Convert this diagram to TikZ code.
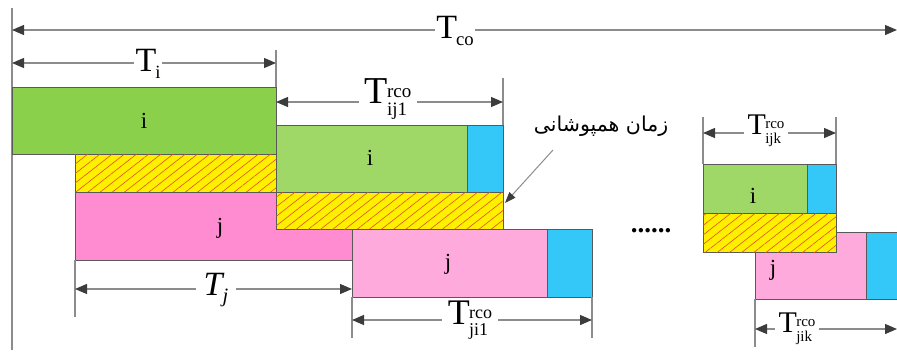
\documentclass[tikz,border=0pt]{standalone}
\usepackage{fontspec}
\usepackage{graphicx}
\setmainfont{Liberation Serif}
\newfontfamily\arabicfont[Script=Arabic]{DejaVu Sans}
\TeXXeTstate=1
\usetikzlibrary{arrows.meta,patterns.meta}
\definecolor{gA}{HTML}{8AD04A}
\definecolor{gB}{HTML}{A0D868}
\definecolor{pA}{HTML}{FF8CD0}
\definecolor{pB}{HTML}{FFAADC}
\definecolor{bl}{HTML}{33C8F8}
\definecolor{yl}{HTML}{FFF000}
\definecolor{hl}{HTML}{E0501E}
\definecolor{ln}{HTML}{8C8C8C}
\definecolor{tp}{HTML}{3C3C3C}
\newcommand{\Tsb}[1]{T\kern-0.03em\raisebox{-0.45ex}{\scalebox{0.55}{#1}}}
\newcommand{\Tss}[2]{T\kern-0.02em\raisebox{-0.15ex}{\scalebox{0.5}{\def\arraystretch{0.8}\begin{tabular}{@{}l@{}}#2\\#1\end{tabular}}}}
\tikzset{
  box/.style={draw=black!65, line width=0.7pt},
  hatchbox/.style={box, fill=yl, postaction={pattern={Lines[angle=38,distance=7.5pt,line width=0.6pt]}, pattern color=hl}},
  dimline/.style={draw=ln, line width=1.3pt, {Triangle[length=12pt,width=10pt,color=tp]}-{Triangle[length=12pt,width=10pt,color=tp]}},
  tick/.style={draw=ln, line width=1.1pt},
  lab/.style={fill=white, inner sep=1.5pt, font=\fontsize{34}{40}\selectfont},
  blab/.style={font=\fontsize{23}{26}\selectfont}
}
\begin{document}
\begin{tikzpicture}[x=1pt,y=-1pt]
\useasboundingbox (0,0) rectangle (897,356);
% left reference line
\coordinate (L0) at (12,8); \coordinate (L1) at (12,350);
\draw[tick] (L0) -- (L1);
% T_co
\coordinate (co1) at (12,30); \coordinate (co2) at (897,30);
\draw[dimline] (co1) -- (co2);
\node[lab] (tco) at (455,31) {\Tsb{co}};
% boxes group 1
\draw[box, fill=gA] (12,87) rectangle (276,154);
\node[blab] (i1) at (144,121) {i};
\draw[hatchbox] (75,154) rectangle (276,192);
\draw[box, fill=pA] (75,192) rectangle (352,260);
\node[blab] (j1) at (220,228) {j};
% group 2
\draw[box, fill=gB] (276,125) rectangle (467,192);
\draw[box, fill=bl] (467,125) rectangle (503,192);
\node[blab] (i2) at (370,158) {i};
\draw[hatchbox] (276,192) rectangle (503,229);
\draw[box, fill=pB] (352,229) rectangle (547,297);
\draw[box, fill=bl] (547,229) rectangle (592,297);
\node[blab] (j2) at (448,264) {j};
% group 3
\draw[box, fill=pB] (755,232) rectangle (866,299);
\fill[bl] (866,232) rectangle (897,299);
\draw[box] (897,232) -- (866,232) -- (866,299) -- (897,299);
\node[blab] (j3) at (773,270) {j};
\draw[box, fill=gB] (703,164) rectangle (807,213);
\draw[box, fill=bl] (807,164) rectangle (836,213);
\node[blab] (i3) at (753,196) {i};
\draw[hatchbox] (703,213) rectangle (836,252);
% T_i
\coordinate (ti1) at (12,63); \coordinate (ti2) at (276,63);
\coordinate (k1a) at (276,50); \coordinate (k1b) at (276,87);
\draw[tick] (k1a) -- (k1b);
\draw[dimline] (ti1) -- (ti2);
\node[lab] (tilab) at (148,64) {\Tsb{i}};
% T_j
\coordinate (tj1) at (75,289); \coordinate (tj2) at (352,289);
\coordinate (k2a) at (75,260); \coordinate (k2b) at (75,317);
\draw[tick] (k2a) -- (k2b);
\draw[dimline] (tj1) -- (tj2);
\node[lab, inner xsep=8pt] (tjlab) at (216,290) {\textit{T}\kern-0.06em\raisebox{-0.4ex}{\scalebox{0.6}{\textit{j}}}};
% T_ij1
\coordinate (a1) at (276,102); \coordinate (a2) at (503,102);
\coordinate (k3a) at (503,78); \coordinate (k3b) at (503,125);
\draw[tick] (k3a) -- (k3b);
\draw[dimline] (a1) -- (a2);
\node[lab, inner xsep=6pt, font=\fontsize{38}{44}\selectfont] (tij1) at (388,100) {\Tss{ij1}{rco}};
% T_ji1
\coordinate (k4a) at (352,297); \coordinate (k4b) at (352,338);
\coordinate (k5a) at (592,297); \coordinate (k5b) at (592,338);
\draw[tick] (k4a) -- (k4b);
\draw[tick] (k5a) -- (k5b);
\coordinate (b1) at (352,320); \coordinate (b2) at (592,320);
\draw[dimline] (b1) -- (b2);
\node[lab, inner xsep=6pt, font=\fontsize{36}{42}\selectfont] (tji1) at (470,321) {\Tss{ji1}{rco}};
% T_ijk
\coordinate (k6a) at (703,117); \coordinate (k6b) at (703,164);
\coordinate (k7a) at (836,117); \coordinate (k7b) at (836,164);
\draw[tick] (k6a) -- (k6b);
\draw[tick] (k7a) -- (k7b);
\coordinate (c1) at (703,133); \coordinate (c2) at (836,133);
\draw[dimline] (c1) -- (c2);
\node[lab, font=\fontsize{30}{36}\selectfont, inner xsep=4pt] (tijk) at (766,131) {\Tss{ijk}{rco}};
% T_jik
\coordinate (k8a) at (755,299); \coordinate (k8b) at (755,347);
\draw[tick] (k8a) -- (k8b);
\coordinate (d1) at (755,329); \coordinate (d2) at (897,329);
\draw[dimline] (d1) -- (d2);
\node[lab, font=\fontsize{30}{36}\selectfont, inner xsep=4pt] (tjik) at (797,329) {\Tss{jik}{rco}};
% overlap annotation
\node[font=\arabicfont\fontsize{20.5}{24}\selectfont] (ov) at (601,126) {\beginR زمان همپوشانی\endR};
\coordinate (ovs) at (553,150); \coordinate (ovt) at (505,203);
\draw[draw=ln, line width=1pt, -{Triangle[length=11pt,width=8pt,color=tp]}] (ovs) -- (ovt);
% dots
\node[font=\bfseries\fontsize{27}{28}\selectfont] (dots) at (651,231) {......};
\end{tikzpicture}
\end{document}
